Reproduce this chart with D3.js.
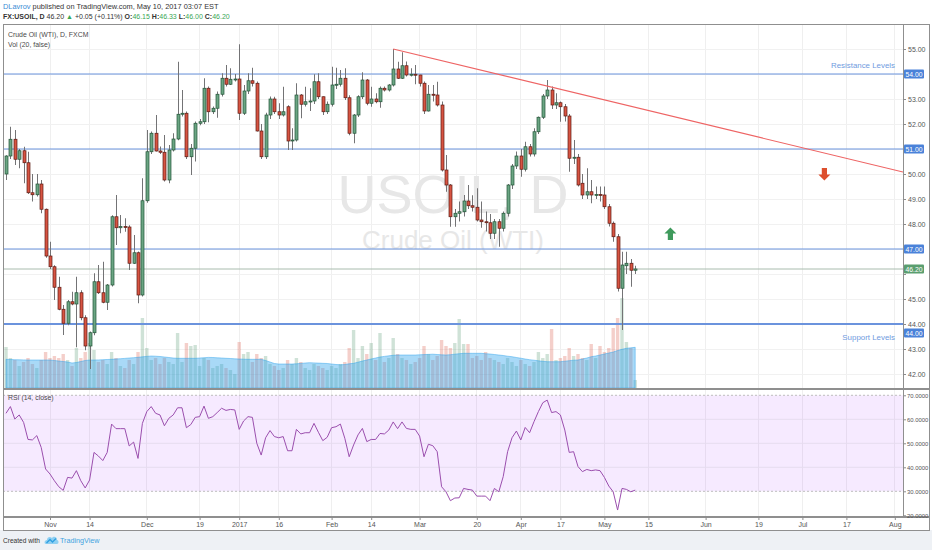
<!DOCTYPE html>
<html lang="en">
<head>
    <meta charset="UTF-8">
    <title>USOIL daily</title>
    <script src="https://d3js.org/d3.v7.min.js"></script>
    <style>
        body {
            margin: 0;
            background: #ffffff;
        }

        svg {
            display: block;
            font-family: "Liberation Sans", Arial, sans-serif;
        }

        .axis text {
            font-size: 7px;
            fill: #555555;
        }

        .axis.rsi text {
            font-size: 5.9px;
        }

        .axis line {
            stroke: #8c8c8c;
        }

        .axis path {
            display: none;
        }
    </style>
</head>
<body>
<script>
    const width = 932
    const height = 550

    // trading calendar (FXCM skipped these days)
    const startDay = "2016-10-18"
    const holidays = ["2016-12-26", "2017-01-02", "2017-04-14"]

    const opens = [
        50.00, 50.72, 51.39, 50.59, 50.93, 50.45, 49.25, 49.17, 49.60, 48.59,
        46.72, 46.29, 45.47, 44.59, 44.03, 44.89, 44.80, 45.25, 44.25, 43.12,
        43.65, 45.69, 45.25, 44.87, 45.56, 48.29, 47.85, 47.90, 47.88, 46.43,
        46.85, 45.16, 48.93, 50.89, 51.63, 50.92, 50.87, 49.76, 50.96, 51.40,
        52.39, 52.43, 50.69, 51.03, 52.03, 52.09, 53.43, 52.49, 52.63, 53.19,
        53.83, 53.59, 53.79, 53.80, 52.43, 53.32, 53.73, 53.63, 51.72, 50.69,
        52.36, 53.00, 52.49, 52.36, 52.69, 51.32, 51.36, 53.16, 52.79, 52.89,
        52.92, 53.69, 53.09, 52.49, 52.79, 53.56, 53.59, 53.83, 53.05, 51.63,
        52.36, 53.09, 53.76, 52.83, 53.00, 52.89, 53.43, 53.36, 53.56, 54.20,
        53.83, 54.33, 53.96, 53.99, 53.96, 53.63, 52.52, 53.19, 53.16, 52.76,
        50.16, 49.56, 48.29, 48.43, 48.49, 48.92, 48.73, 48.67, 48.16, 48.09,
        48.05, 47.63, 48.09, 47.83, 48.43, 49.56, 50.32, 50.72, 50.19, 51.09,
        50.80, 51.69, 52.27, 53.12, 53.36, 52.76, 52.85, 52.69, 52.32, 50.63,
        50.67, 49.63, 49.16, 49.29, 49.16, 49.18, 49.16, 48.69, 48.03, 47.49,
        45.43, 46.33, 46.43, 46.15
    ]
    const highs = [
        50.75, 51.89, 51.76, 51.00, 51.09, 50.89, 50.00, 50.00, 49.76, 48.62,
        47.29, 46.35, 45.89, 44.76, 44.96, 45.29, 45.89, 45.35, 44.35, 43.70,
        46.03, 46.36, 46.49, 45.60, 48.35, 49.16, 48.36, 48.23, 47.95, 47.56,
        46.90, 49.83, 51.76, 51.70, 52.36, 51.10, 51.56, 51.16, 51.63, 54.49,
        53.36, 52.50, 51.20, 52.10, 52.20, 53.83, 53.50, 52.70, 53.30, 54.03,
        54.36, 54.23, 54.00, 55.19, 53.56, 54.03, 54.25, 53.70, 52.00, 52.45,
        53.10, 53.09, 52.83, 53.49, 52.75, 51.83, 53.63, 53.20, 53.49, 53.43,
        53.99, 54.03, 53.10, 52.90, 54.29, 54.25, 54.16, 54.23, 53.15, 52.40,
        53.15, 54.07, 53.80, 53.49, 53.23, 53.50, 53.50, 53.60, 55.00, 54.49,
        54.87, 54.50, 54.23, 54.36, 53.97, 53.70, 53.56, 53.56, 53.69, 52.90,
        50.76, 49.60, 48.60, 48.90, 49.16, 49.56, 49.15, 49.43, 48.90, 48.50,
        48.40, 48.20, 48.20, 48.50, 49.60, 50.40, 50.90, 51.00, 51.29, 51.20,
        51.83, 52.30, 53.20, 53.76, 53.50, 53.23, 52.90, 52.80, 52.40, 51.36,
        50.80, 50.00, 50.23, 49.76, 49.50, 49.50, 49.50, 48.80, 48.10, 47.60,
        46.89, 46.89, 46.60, 46.33
    ]
    const lows = [
        49.76, 50.60, 50.36, 50.23, 49.63, 49.20, 48.90, 49.10, 48.43, 46.65,
        46.20, 44.96, 44.55, 43.56, 43.95, 44.75, 43.07, 44.15, 42.95, 42.20,
        43.55, 45.20, 44.83, 44.56, 45.50, 47.16, 47.63, 47.69, 46.16, 46.40,
        44.83, 45.10, 48.85, 50.80, 50.90, 50.80, 49.70, 49.63, 50.90, 51.35,
        52.30, 50.60, 49.96, 50.50, 51.95, 52.00, 52.07, 52.40, 52.25, 53.10,
        53.50, 53.56, 53.70, 52.16, 52.36, 53.20, 53.50, 51.70, 50.60, 50.60,
        52.20, 52.40, 52.20, 52.30, 50.96, 50.96, 51.30, 52.23, 52.70, 52.52,
        52.80, 53.00, 52.36, 52.40, 52.70, 53.40, 53.50, 52.96, 51.55, 51.23,
        52.28, 53.00, 52.75, 52.69, 52.83, 52.65, 53.30, 53.30, 53.50, 53.80,
        53.80, 53.90, 53.90, 53.59, 53.50, 52.40, 52.50, 52.90, 52.70, 50.10,
        49.29, 47.89, 47.89, 48.10, 48.30, 48.60, 48.50, 48.10, 47.85, 47.70,
        47.40, 47.40, 47.09, 47.70, 48.30, 49.40, 50.20, 49.89, 50.10, 50.70,
        50.70, 51.60, 52.20, 53.00, 52.60, 52.60, 52.09, 52.10, 50.09, 50.40,
        49.50, 49.00, 49.00, 48.83, 49.00, 48.90, 48.60, 47.90, 47.29, 45.30,
        43.76, 46.00, 45.49, 46.00
    ]
    const closes = [
        50.72, 51.39, 50.59, 50.93, 50.45, 49.25, 49.17, 49.60, 48.59, 46.72,
        46.29, 45.47, 44.59, 44.03, 44.89, 44.80, 45.25, 44.25, 43.12, 43.65,
        45.69, 45.25, 44.87, 45.56, 48.29, 47.85, 47.90, 47.88, 46.43, 46.85,
        45.16, 48.93, 50.89, 51.63, 50.92, 50.87, 49.76, 50.96, 51.40, 52.39,
        52.43, 50.69, 51.03, 52.03, 52.09, 53.43, 52.49, 52.63, 53.19, 53.83,
        53.59, 53.79, 53.80, 52.43, 53.32, 53.73, 53.63, 51.72, 50.69, 52.36,
        53.00, 52.49, 52.36, 52.49, 51.32, 51.36, 53.16, 52.79, 52.89, 52.92,
        53.69, 53.09, 52.49, 52.79, 53.56, 53.59, 53.83, 53.05, 51.63, 52.36,
        53.09, 53.76, 52.83, 53.00, 52.89, 53.43, 53.36, 53.56, 54.20, 53.83,
        54.33, 53.96, 53.99, 53.96, 53.63, 52.52, 53.19, 53.16, 52.76, 50.16,
        49.56, 48.29, 48.43, 48.49, 48.92, 48.73, 48.67, 48.16, 48.09, 48.05,
        47.63, 48.09, 47.83, 48.43, 49.56, 50.32, 50.72, 50.19, 51.09, 50.80,
        51.69, 52.27, 53.12, 53.36, 52.76, 52.85, 52.69, 52.32, 50.63, 50.67,
        49.56, 49.16, 49.29, 49.16, 49.18, 49.16, 48.69, 48.03, 47.49, 45.43,
        46.36, 46.43, 46.15, 46.20
    ]
    const volumes = [
        41, 30, 28, 22, 26, 30, 24, 20, 28, 36,
        30, 32, 30, 34, 28, 22, 40, 30, 36, 45,
        38, 26, 28, 24, 36, 30, 22, 20, 28, 24,
        36, 70, 40, 28, 30, 24, 30, 26, 24, 55,
        26, 45, 42, 43, 22, 30, 28, 20, 22, 24,
        20, 18, 14, 46, 34, 36, 26, 34, 30, 32,
        24, 22, 18, 20, 28, 24, 30, 26, 20, 18,
        24, 22, 20, 18, 22, 20, 24, 26, 40, 58,
        30, 42, 34, 45, 28, 55, 26, 30, 50, 34,
        30, 28, 24, 26, 30, 42, 34, 28, 32, 48,
        42, 40, 45, 69, 44, 44, 30, 32, 28, 36,
        30, 28, 26, 24, 30, 26, 22, 28, 24, 22,
        26, 36, 30, 34, 59, 28, 30, 32, 40, 32,
        34, 30, 28, 44, 30, 42, 36, 40, 60, 70,
        90, 46, 40, 8
    ]
    const volumeMA = [
        28.7, 28.5, 28.3, 28.2, 28.1, 28, 28, 28, 28, 28,
        28, 27.5, 27, 26.5, 26, 25, 25.5, 26.5, 27.5, 28,
        28, 28.1, 28.3, 28.5, 28.7, 29, 29.3, 29.6, 30, 30.3,
        30.7, 31.2, 31.6, 32, 31.8, 31.5, 31, 30.5, 30, 29.7,
        29.7, 29.7, 29.7, 29.7, 30, 30.3, 30.6, 30.5, 30.2, 30,
        29.7, 29.5, 29.2, 29, 28.8, 28.7, 28.7, 28.7, 28.7, 27.5,
        26, 24.5, 24, 24, 24, 24, 24.2, 24.6, 25, 25.3,
        25.1, 24.9, 24.7, 24.5, 24, 23.5, 23.2, 23.5, 24.2, 24.7,
        25.8, 27, 28, 29, 30, 31, 31.6, 32.2, 32.7, 33,
        33, 33, 33, 33, 33.2, 33.4, 33.6, 33.8, 33.5, 33.2,
        33, 33.3, 33.8, 34.3, 34.7, 34.7, 34.7, 34.7, 34.7, 34.3,
        34, 33.5, 33, 32.5, 31.8, 31.3, 30.5, 29.8, 29, 28.3,
        27.8, 27.2, 26.7, 26.3, 26.3, 26.3, 26.3, 26.8, 27.3, 27.8,
        28, 29, 30, 31.3, 32, 33, 34, 35, 36, 37.5,
        38.7, 39.7, 40.2, 40.7
    ]
    const rsi = [
        62.5, 65.3, 60.1, 61.8, 58.7, 51.6, 51.4, 53.2, 48.3, 39.3,
        37.2, 34.4, 31.9, 30.4, 35.8, 35.5, 38.6, 34.4, 31.4, 34.7,
        46.2, 44.7, 42.8, 46.2, 58.0, 56.1, 56.1, 56.1, 48.9, 50.5,
        43.7, 58.3, 63.2, 65.3, 62.5, 61.8, 57.3, 60.4, 61.8, 64.8,
        64.8, 56.5, 57.8, 60.8, 61.1, 65.5, 60.4, 61.1, 62.8, 64.6,
        63.7, 64.1, 63.9, 55.8, 59.3, 61.1, 60.8, 50.0, 45.1, 52.3,
        55.3, 52.8, 52.3, 52.8, 46.9, 46.9, 55.8, 53.9, 54.4, 54.4,
        58.3, 54.6, 51.1, 52.5, 56.5, 56.9, 58.0, 52.1, 44.4, 49.3,
        53.5, 56.2, 50.7, 51.6, 51.6, 54.1, 53.9, 55.5, 58.9, 56.1,
        58.9, 56.2, 55.8, 55.8, 53.0, 44.4, 49.6, 49.0, 46.5, 31.9,
        29.8, 26.1, 27.2, 27.3, 31.2, 30.8, 30.5, 28.0, 28.0, 28.0,
        26.1, 31.2, 29.8, 36.1, 46.5, 52.3, 55.1, 51.4, 56.6, 54.4,
        59.0, 63.2, 66.9, 68.0, 62.8, 63.2, 61.8, 55.5, 46.2, 46.5,
        40.3, 38.2, 39.1, 38.6, 38.9, 38.6, 35.8, 32.2, 29.8, 22.2,
        31.2, 30.8, 29.8, 30.5
    ]

    const tickDates = ["2016-11-01", "2016-11-14", "2016-12-01", "2016-12-19", "2017-01-03", "2017-01-16",
        "2017-02-01", "2017-02-14", "2017-03-01", "2017-03-20", "2017-04-03", "2017-04-17", "2017-05-01",
        "2017-05-15", "2017-06-01", "2017-06-19", "2017-07-03", "2017-07-17", "2017-08-01"]
    const tickLabels = ["Nov", "14", "Dec", "19", "2017", "16", "Feb", "14", "Mar", "20", "Apr", "17", "May",
        "15", "Jun", "19", "Jul", "17", "Aug"]
    const priceTicks = [42, 43, 44, 45, 46, 47, 48, 49, 50, 51, 52, 53, 54, 55]
    const rsiTicks = [20, 30, 40, 50, 60, 70]

    // drawings on the chart
    const levels = [54, 51, 47, 44]
    const levelNotes = [
        {text: "Resistance Levels", price: 54.38},
        {text: "Support Levels", price: 43.50}
    ]
    const trendPoints = [
        {date: "2017-02-21", price: 55.00},
        {date: "2017-07-03", price: 51.05}
    ]
    const arrows = [
        {date: "2017-05-22", price: 47.6, dir: "up"},
        {date: "2017-07-10", price: 50.0, dir: "down"}
    ]

    const parseDay = d3.utcParse("%Y-%m-%d")
    const fmtDay = d3.utcFormat("%Y-%m-%d")
    const days = d3.utcDays(parseDay(startDay), parseDay("2017-08-31"))
        .filter(d => d.getUTCDay() % 6 !== 0 && !holidays.includes(fmtDay(d)))
    const dayIndex = new Map(days.map((d, i) => [fmtDay(d), i]))

    const left = 3, right = 903, frameRight = 929
    const mainTop = 24, mainBottom = 388
    const rsiTop = 390, rsiBottom = 517
    const step = 4.4

    const xScale = d3.scaleLinear()
        .domain([0, 200])
        .range([6, 6 + 200 * step])
    const yScale = d3.scaleLinear()
        .domain([41.44, 55.96])
        .range([mainBottom, 25])
    const volScale = d3.scaleLinear()
        .domain([0, 100])
        .range([mainBottom, mainBottom - 100])
    const rsiScale = d3.scaleLinear()
        .domain([19.3, 72.2])
        .range([rsiBottom, rsiTop])

    const svg = d3.select("body")
        .append("svg")
        .attr("width", width)
        .attr("height", height)

    svg.append("rect")
        .attr("width", width).attr("height", height)
        .attr("fill", "#ffffff")
    svg.append("rect")
        .attr("y", 530).attr("width", width).attr("height", 20)
        .attr("fill", "#eef1f5")

    const defs = svg.append("defs")
    defs.append("clipPath").attr("id", "clipMain")
        .append("rect")
        .attr("x", left).attr("y", mainTop)
        .attr("width", right - left).attr("height", mainBottom - mainTop)
    defs.append("clipPath").attr("id", "clipRsi")
        .append("rect")
        .attr("x", left).attr("y", rsiTop)
        .attr("width", right - left).attr("height", rsiBottom - rsiTop)

    const tickIdx = tickDates.map(d => dayIndex.get(d))

    // grid
    const grid = svg.append("g").attr("shape-rendering", "crispEdges")
    grid.selectAll(".vg")
        .data(tickIdx)
        .enter()
        .append("line")
        .attr("x1", d => xScale(d)).attr("x2", d => xScale(d))
        .attr("y1", mainTop).attr("y2", rsiBottom)
        .attr("stroke", "#efefef")
    grid.selectAll(".hg")
        .data(priceTicks)
        .enter()
        .append("line")
        .attr("x1", left).attr("x2", right)
        .attr("y1", d => yScale(d)).attr("y2", d => yScale(d))
        .attr("stroke", "#f1f1f1")

    // watermark
    svg.append("text")
        .text("USOIL, D")
        .attr("x", (left + right) / 2).attr("y", 213)
        .attr("text-anchor", "middle")
        .attr("font-size", 54)
        .attr("fill", "#e7e7e7")
    svg.append("text")
        .text("Crude Oil (WTI)")
        .attr("x", (left + right) / 2).attr("y", 249)
        .attr("text-anchor", "middle")
        .attr("font-size", 26)
        .attr("fill", "#e7e7e7")

    const bars = d3.range(closes.length)
    const isUp = i => closes[i] >= opens[i]

    // volume + its moving average
    const main = svg.append("g").attr("clip-path", "url(#clipMain)")
    main.selectAll(".vol")
        .data(bars)
        .enter()
        .append("rect")
        .attr("x", i => xScale(i) - 1.7)
        .attr("y", i => volScale(volumes[i]))
        .attr("width", 3.4)
        .attr("height", i => mainBottom - volScale(volumes[i]))
        .attr("fill", i => isUp(i) ? "rgba(107,165,131,0.32)" : "rgba(215,84,66,0.28)")
    const maArea = d3.area()
        .x(i => xScale(i))
        .y0(mainBottom)
        .y1(i => volScale(volumeMA[i]))
    main.append("path")
        .datum(bars)
        .attr("d", maArea)
        .attr("fill", "rgba(40,160,235,0.4)")
        .attr("stroke", "rgba(40,160,235,0.45)")

    // levels
    main.selectAll(".level")
        .data(levels)
        .enter()
        .append("line")
        .attr("x1", left).attr("x2", right)
        .attr("y1", d => yScale(d)).attr("y2", d => yScale(d))
        .attr("stroke", "#6b93dd")
        .attr("stroke-width", d => d === 44 ? 1.8 : 1.1)
    main.append("line")
        .attr("x1", left).attr("x2", right)
        .attr("y1", yScale(closes[closes.length - 1])).attr("y2", yScale(closes[closes.length - 1]))
        .attr("stroke", "#a9bcae")
    main.selectAll(".note")
        .data(levelNotes)
        .enter()
        .append("text")
        .text(d => d.text)
        .attr("x", right - 8)
        .attr("y", d => yScale(d.price) + 3)
        .attr("text-anchor", "end")
        .attr("font-size", 7.9)
        .attr("fill", "#6f9be0")

    // candles
    const candles = main.append("g")
    candles.selectAll(".wick")
        .data(bars)
        .enter()
        .append("line")
        .attr("x1", i => Math.round(xScale(i)) + 0.5)
        .attr("x2", i => Math.round(xScale(i)) + 0.5)
        .attr("y1", i => yScale(highs[i]))
        .attr("y2", i => yScale(lows[i]))
        .attr("stroke", "#737375")
    candles.selectAll(".body")
        .data(bars)
        .enter()
        .append("rect")
        .attr("x", i => Math.round(xScale(i)) - 1)
        .attr("y", i => yScale(Math.max(opens[i], closes[i])))
        .attr("width", 3)
        .attr("height", i => Math.max(1, Math.abs(yScale(opens[i]) - yScale(closes[i]))))
        .attr("fill", i => isUp(i) ? "#6ba583" : "#d75442")
        .attr("stroke", i => isUp(i) ? "#225437" : "#5b1a13")
        .attr("stroke-width", 0.7)

    // trend line, extended to the price axis
    const t0 = {x: dayIndex.get(trendPoints[0].date), y: trendPoints[0].price}
    const t1 = {x: dayIndex.get(trendPoints[1].date), y: trendPoints[1].price}
    const slope = (t1.y - t0.y) / (t1.x - t0.x)
    const tEnd = xScale.invert(right)
    main.append("line")
        .attr("x1", xScale(t0.x)).attr("y1", yScale(t0.y))
        .attr("x2", xScale(tEnd)).attr("y2", yScale(t0.y + slope * (tEnd - t0.x)))
        .attr("stroke", "#ee6464")
        .attr("stroke-width", 1.2)

    // arrows
    const arrowPath = "M0,-6.5 L6,-0.5 L2.6,-0.5 L2.6,6 L-2.6,6 L-2.6,-0.5 L-6,-0.5 Z"
    main.selectAll(".arrow")
        .data(arrows)
        .enter()
        .append("path")
        .attr("d", arrowPath)
        .attr("transform", d => "translate(" + xScale(dayIndex.get(d.date)) + "," + yScale(d.price) + ")"
            + (d.dir === "down" ? " rotate(180)" : ""))
        .attr("fill", d => d.dir === "up" ? "#3f9a5c" : "#dd4f2d")

    // RSI pane
    const rsiG = svg.append("g").attr("clip-path", "url(#clipRsi)")
    rsiG.append("rect")
        .attr("x", left).attr("width", right - left)
        .attr("y", rsiScale(70)).attr("height", rsiScale(30) - rsiScale(70))
        .attr("fill", "rgba(153,21,255,0.09)")
    rsiG.selectAll(".rg")
        .data([40, 50, 60])
        .enter()
        .append("line")
        .attr("x1", left).attr("x2", right)
        .attr("y1", d => rsiScale(d)).attr("y2", d => rsiScale(d))
        .attr("stroke", "#e6dcef")
    rsiG.selectAll(".band")
        .data([70, 30])
        .enter()
        .append("line")
        .attr("x1", left).attr("x2", right)
        .attr("y1", d => rsiScale(d)).attr("y2", d => rsiScale(d))
        .attr("stroke", "#bdbdbd")
        .attr("stroke-dasharray", "2,2")
    const rsiLine = d3.line()
        .x(i => xScale(i))
        .y(i => rsiScale(rsi[i]))
    rsiG.append("path")
        .datum(bars)
        .attr("d", rsiLine)
        .attr("fill", "none")
        .attr("stroke", "#9b4fae")
        .attr("stroke-width", 1)

    // frame
    const frame = svg.append("g").attr("shape-rendering", "crispEdges").attr("stroke", "#8f8f8f")
    frame.append("rect")
        .attr("x", left).attr("y", mainTop)
        .attr("width", frameRight - left).attr("height", 530 - mainTop)
        .attr("fill", "none")
    frame.append("line")
        .attr("x1", right).attr("x2", right).attr("y1", mainTop).attr("y2", rsiBottom)
    frame.append("line")
        .attr("x1", left).attr("x2", frameRight).attr("y1", 389).attr("y2", 389)
        .attr("stroke-width", 1.5)
    frame.append("line")
        .attr("x1", left).attr("x2", frameRight).attr("y1", rsiBottom).attr("y2", rsiBottom)
        .attr("stroke-width", 1.5)

    // price labels on the axis (tick labels under a label box stay hidden)
    const lastClose = closes[closes.length - 1]
    const labelShift = {44: 9}
    const boxes = levels.map(v => ({text: v.toFixed(2), y: yScale(v) + (labelShift[v] || 0), color: "#4a82d9"}))
    boxes.push({text: lastClose.toFixed(2), y: yScale(lastClose), color: "#5a9e6f"})
    const covered = v => boxes.some(b => Math.abs(b.y - yScale(v)) < 7)

    // axes
    const priceAxis = d3.axisRight(yScale)
        .tickValues(priceTicks)
        .tickFormat(d => covered(d) ? "" : d3.format(".2f")(d))
        .tickSize(3)
        .tickPadding(2)
    svg.append("g")
        .attr("class", "axis")
        .attr("transform", "translate(" + right + ",0)")
        .call(priceAxis)
    const rsiAxis = d3.axisRight(rsiScale)
        .tickValues(rsiTicks)
        .tickFormat(d3.format(".4f"))
        .tickSize(3)
        .tickPadding(1)
    svg.append("g")
        .attr("class", "axis rsi")
        .attr("transform", "translate(" + right + ",0)")
        .call(rsiAxis)
    const xAxis = d3.axisBottom(xScale)
        .tickValues(tickIdx)
        .tickFormat((d, i) => tickLabels[i])
        .tickSize(3)
        .tickPadding(2)
    svg.append("g")
        .attr("class", "axis")
        .attr("transform", "translate(0," + rsiBottom + ")")
        .call(xAxis)

    const boxG = svg.selectAll(".box")
        .data(boxes)
        .enter()
        .append("g")
    boxG.append("rect")
        .attr("x", right + 1).attr("y", d => d.y - 4.5)
        .attr("width", 20).attr("height", 9)
        .attr("rx", 1)
        .attr("fill", d => d.color)
    boxG.append("text")
        .text(d => d.text)
        .attr("x", right + 11).attr("y", d => d.y + 2.5)
        .attr("text-anchor", "middle")
        .attr("font-size", 6.8)
        .attr("fill", "#ffffff")

    // pane legends
    const legend = [
        {text: "Crude Oil (WTI), D, FXCM", y: 37},
        {text: "Vol (20, false)", y: 47},
        {text: "RSI (14, close)", y: 400}
    ]
    svg.selectAll(".legend")
        .data(legend)
        .enter()
        .append("text")
        .text(d => d.text)
        .attr("x", 8).attr("y", d => d.y)
        .attr("font-size", 6.9)
        .attr("fill", "#4a4a4a")

    // header
    const last = closes.length - 1
    const chg = closes[last] - closes[last - 1]
    const green = "#3aa655"
    const h1 = svg.append("text").attr("x", 3).attr("y", 9).attr("font-size", 7.4).attr("fill", "#333")
    h1.append("tspan").text("DLavrov").attr("fill", "#3b8dd5")
    h1.append("tspan").text(" published on TradingView.com, May 10, 2017 03:07 EST")
    const h2 = svg.append("text").attr("x", 3).attr("y", 19).attr("font-size", 7).attr("fill", "#333")
    h2.append("tspan").text("FX:USOIL, D").attr("font-weight", "bold")
    h2.append("tspan").text(" " + closes[last].toFixed(2) + " ")
    h2.append("tspan").text("\u25B2").attr("fill", green)
    h2.append("tspan").text(" +" + chg.toFixed(2) + " (+" + (chg / closes[last - 1] * 100).toFixed(2) + "%) ")
    const ohlc = [["O:", opens[last]], ["H:", highs[last]], ["L:", lows[last]], ["C:", closes[last]]]
    ohlc.forEach(function (d) {
        h2.append("tspan").text(d[0]).attr("font-weight", "bold")
        h2.append("tspan").text(d[1].toFixed(2) + " ").attr("fill", green)
    })

    // footer
    svg.append("text")
        .text("Created with")
        .attr("x", 3).attr("y", 543)
        .attr("font-size", 6.6)
        .attr("fill", "#333")
    const logo = svg.append("g").attr("transform", "translate(45,535)")
    logo.append("path")
        .attr("d", "M1,9 C-1,9 -1,5 2,5 C2,2 5,1 7,3 C8,1 12,1 12,5 C14,5 14,9 12,9 Z")
        .attr("fill", "#8fd0f2")
    logo.append("path")
        .attr("d", "M1.5,8 L5,4.5 L7.5,7 L11,3.5")
        .attr("fill", "none")
        .attr("stroke", "#2f9fe0")
        .attr("stroke-width", 1.3)
    svg.append("text")
        .text("TradingView")
        .attr("x", 60).attr("y", 543)
        .attr("font-size", 7.2)
        .attr("fill", "#3ea3e0")
</script>
</body>
</html>
